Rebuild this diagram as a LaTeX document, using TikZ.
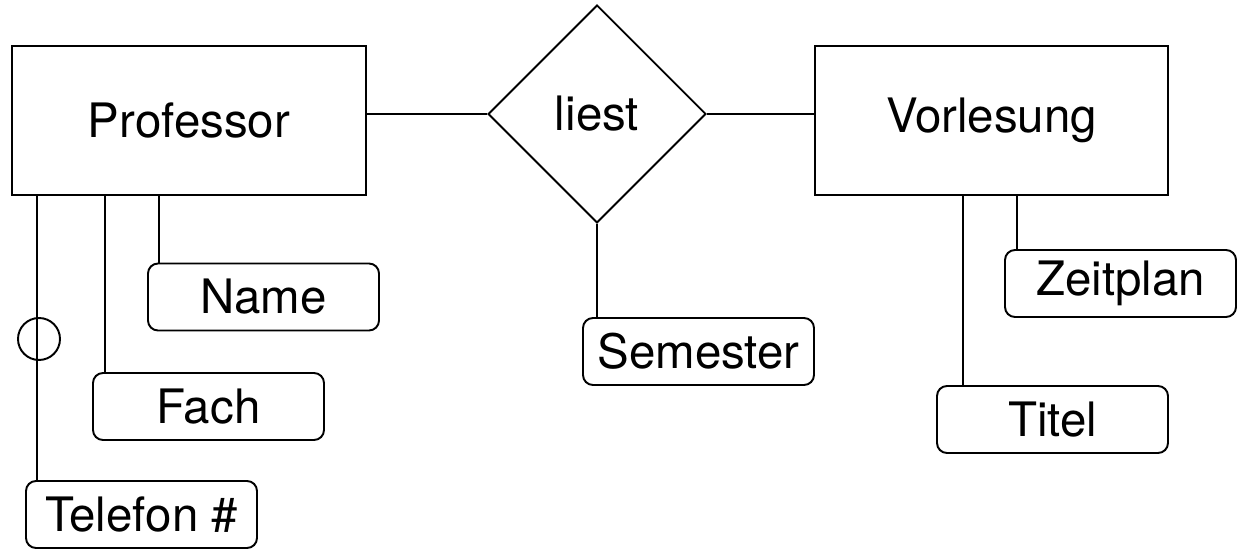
\documentclass[tikz,border=0pt]{standalone}
\usepackage{fontspec}
\setmainfont{TeX Gyre Heros}
\usetikzlibrary{shapes.geometric}

\begin{document}
\begin{tikzpicture}[
    line width=1.1pt,
    entity/.style={draw, rectangle, minimum width=7.07cm, minimum height=2.98cm,
        font=\fontsize{27}{32}\selectfont},
    relation/.style={draw, diamond, aspect=1, minimum width=4.36cm, minimum height=4.36cm,
        inner sep=0pt, font=\fontsize{27}{32}\selectfont},
    attrib/.style={draw, rectangle, rounded corners=0.2cm, minimum width=4.62cm,
        minimum height=1.34cm, font=\fontsize{27}{32}\selectfont}
]
    \useasboundingbox (0,0) rectangle (25,11.06);

    \node[entity] (prof) at (3.78,8.65) {Professor};
    \node[relation] (liest) at (11.94,8.78) {liest};
    \node[entity] (vorl) at (19.83,8.65) {Vorlesung};

    \node[attrib] (name) at (5.27,5.12) {Name};
    \node[attrib] (fach) at (4.17,2.93) {Fach};
    \node[attrib] (tel) at (2.83,0.77) {Telefon \#};
    \node[attrib] (sem) at (13.97,4.03) {Semester};
    \node[attrib] (zeit) at (22.41,5.39) {Zeitplan};
    \node[attrib] (titel) at (21.05,2.67) {Titel};

    \draw (liest.west) -- (liest.west -| prof.east);
    \draw (liest.east) -- (liest.east -| vorl.west);
    \draw (liest.south) -- (liest.south |- sem.north);

    \draw ([xshift=0.24cm]name.north west) -- ([xshift=0.24cm]name.north west |- prof.south);
    \draw ([xshift=0.26cm]fach.north west) -- ([xshift=0.26cm]fach.north west |- prof.south);
    \draw ([xshift=0.24cm]tel.north west) -- ([xshift=0.24cm]tel.north west |- prof.south);
    \draw ([xshift=0.26cm]zeit.north west) -- ([xshift=0.26cm]zeit.north west |- vorl.south);
    \draw ([xshift=0.54cm]titel.north west) -- ([xshift=0.54cm]titel.north west |- vorl.south);

    \draw (0.78,4.28) circle (0.42);
\end{tikzpicture}
\end{document}
